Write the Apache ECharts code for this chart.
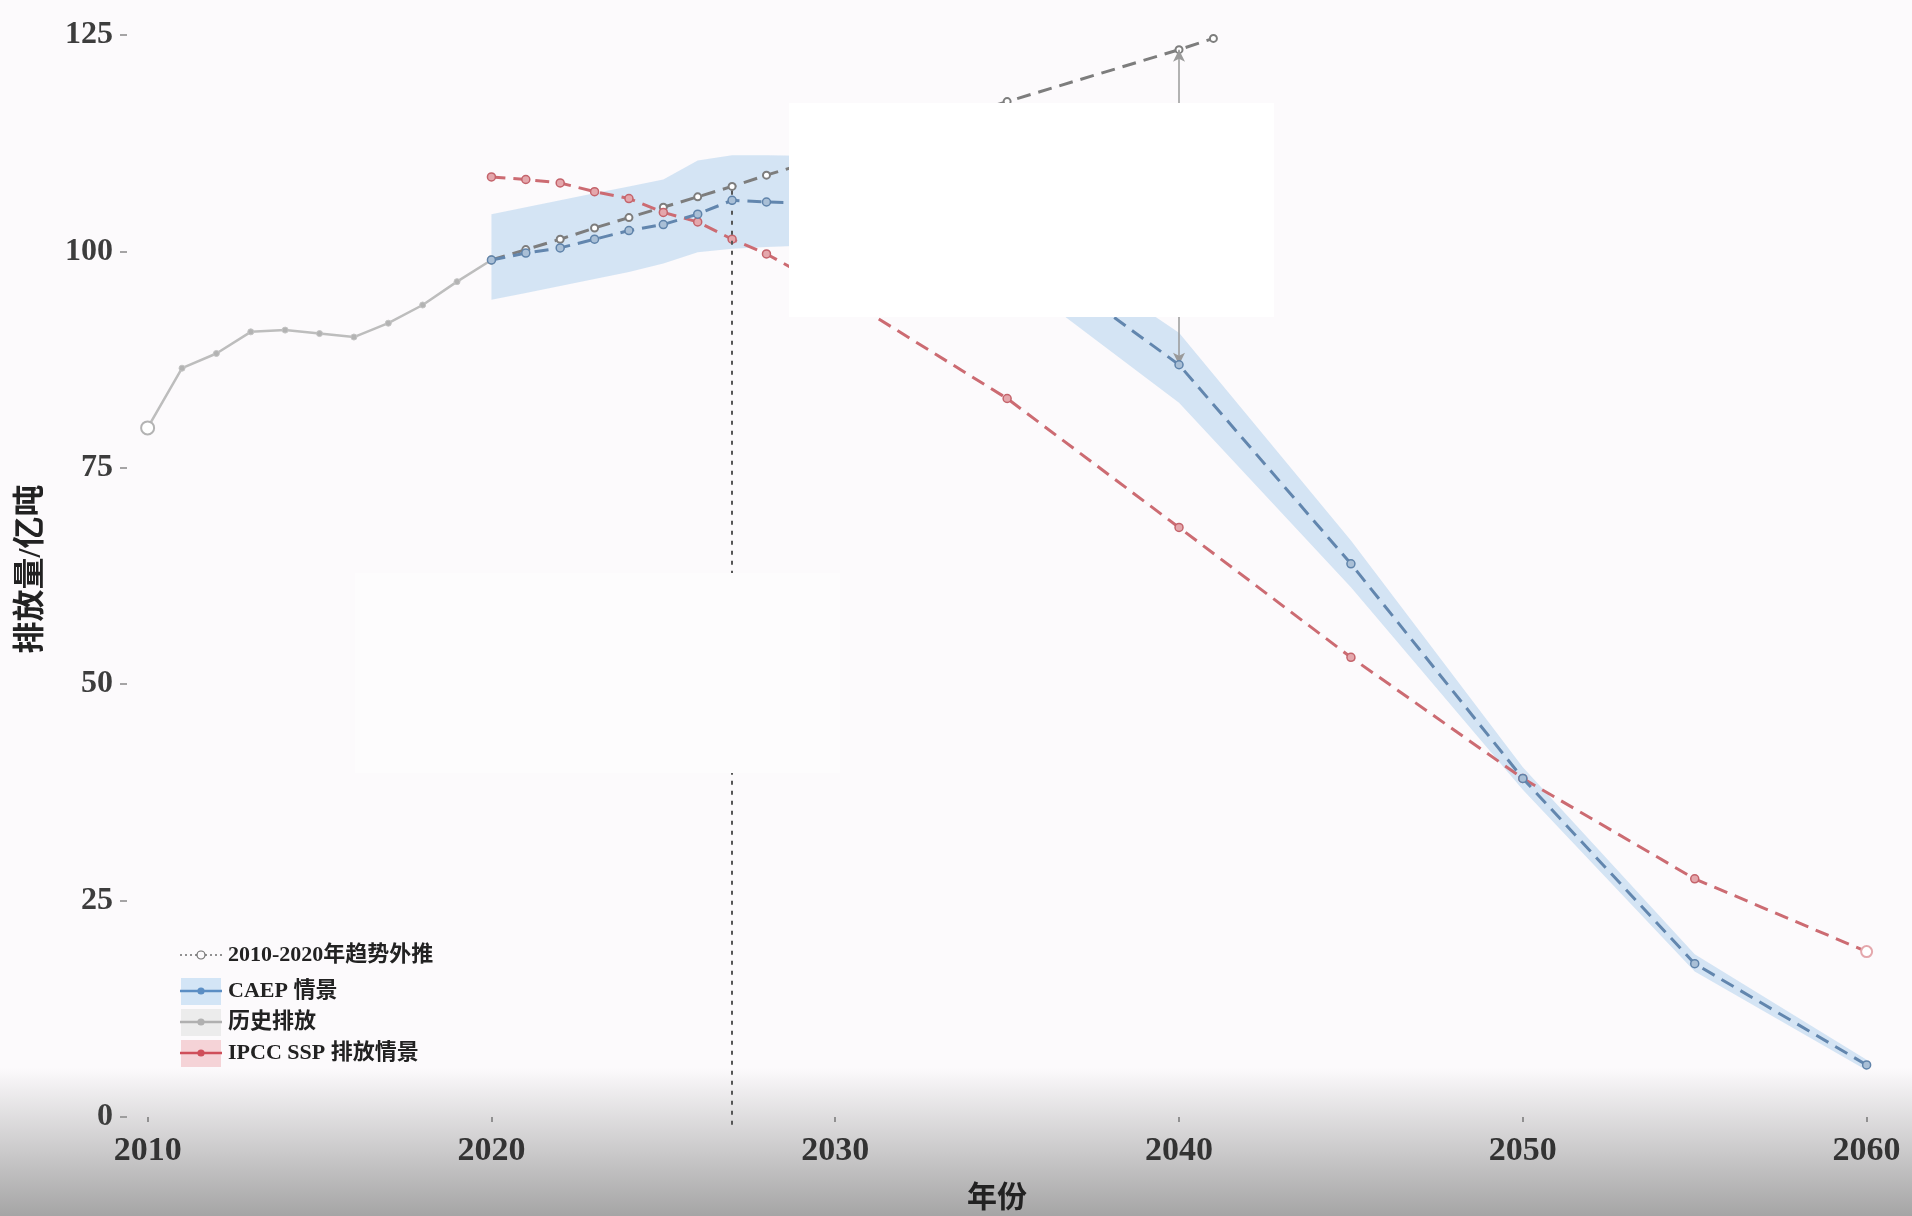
<!DOCTYPE html>
<html>
<head>
<meta charset="utf-8">
<title>排放量情景</title>
<script src="https://cdn.jsdelivr.net/npm/echarts@6/dist/echarts.min.js"></script>
<style>
  html, body { margin: 0; padding: 0; background: #fcfafc; }
  #chart { width: 1912px; height: 1216px; }
</style>
</head>
<body>
<div id="chart"></div>
<script>
// historical emissions (亿吨)
const histYears = [2010, 2011, 2012, 2013, 2014, 2015, 2016, 2017, 2018, 2019, 2020];
const histValues = [79.6, 86.5, 88.2, 90.7, 90.9, 90.5, 90.1, 91.7, 93.8, 96.5, 99.0];

// scenario years shared by CAEP and IPCC SSP
const scenYears = [2020, 2021, 2022, 2023, 2024, 2025, 2026, 2027, 2028, 2030, 2035, 2040, 2045, 2050, 2055, 2060];
const caepValues = [99.0, 99.8, 100.4, 101.4, 102.4, 103.1, 104.3, 105.9, 105.7, 105.5, 101.4, 86.9, 63.9, 39.1, 17.7, 6.0];
const caepLow = [94.4, 95.2, 96.0, 96.8, 97.6, 98.6, 99.9, 100.3, 100.5, 100.8, 97.5, 82.5, 61.2, 37.8, 16.8, 5.4];
const caepHigh = [104.3, 105.1, 105.9, 106.7, 107.5, 108.3, 110.5, 111.1, 111.1, 111.0, 104.0, 90.6, 66.6, 40.4, 18.8, 6.6];
const ipccValues = [108.6, 108.3, 107.9, 106.9, 106.1, 104.5, 103.4, 101.4, 99.7, 95.3, 83.0, 68.1, 53.1, 39.1, 27.5, 19.1];

// 2010-2020 trend extrapolation
const trendYears = [2020, 2021, 2022, 2023, 2024, 2025, 2026, 2027, 2028, 2030, 2035, 2040, 2041];
const trendValues = [99.0, 100.2, 101.4, 102.7, 103.9, 105.1, 106.3, 107.5, 108.8, 111.2, 117.3, 123.3, 124.6];

// reference marks
const peakMark = [2027, 107.0];          // dotted vertical line from here down to the panel bottom
const gapMark = [2040, 123.3, 86.9];     // year, trend value, CAEP value

const xTicks = [2010, 2020, 2030, 2040, 2050, 2060];
const yTicks = [0, 25, 50, 75, 100, 125];
const xMin = 2009.4, xMax = 2061;
const yMin = -1.4, yMax = 128;

const zip = (xs, ys) => xs.map((x, i) => [x, ys[i]]);
const serif = "'Liberation Serif', 'Noto Sans CJK SC', serif";
const bg = '#fcfafc';

const chart = echarts.init(document.getElementById('chart'));

// hand drawn legend in the lower left corner (ggplot style keys)
const legendRows = [
  { y: 955, text: '2010-2020年趋势外推', box: null, line: '#6e6e6e', dotted: true },
  { y: 991, text: 'CAEP 情景', box: '#d3e5f6', line: '#5b8ec4' },
  { y: 1022, text: '历史排放', box: '#ececec', line: '#b0b0b0' },
  { y: 1053, text: 'IPCC SSP 排放情景', box: '#f5d3d7', line: '#cf4f5a' },
];
const legendEls = [];
legendRows.forEach((r) => {
  if (r.box) {
    legendEls.push({ type: 'rect', shape: { x: 181, y: r.y - 13, width: 40, height: 27 }, style: { fill: r.box } });
  }
  legendEls.push({
    type: 'line',
    shape: { x1: 180, y1: r.y, x2: 222, y2: r.y },
    style: { stroke: r.line, lineWidth: r.dotted ? 1.5 : 2.5, lineDash: r.dotted ? [2, 3] : null },
  });
  legendEls.push({
    type: 'circle',
    shape: { cx: 201, cy: r.y, r: r.dotted ? 4 : 3 },
    style: { fill: r.dotted ? bg : r.line, stroke: r.line, lineWidth: 1.2 },
  });
  legendEls.push({
    type: 'text',
    x: 228,
    y: r.y,
    style: { text: r.text, fill: '#222', font: 'bold 22px ' + serif, verticalAlign: 'middle' },
  });
});

const option = {
  backgroundColor: bg,
  animation: false,
  grid: { left: 127, right: 11, top: 9, bottom: 87, containLabel: false, outerBoundsMode: 'none' },
  xAxis: {
    type: 'value',
    min: xMin,
    max: xMax,
    axisLine: { show: false },
    axisTick: { show: true, length: 5, customValues: xTicks, lineStyle: { color: '#777', width: 1.5 } },
    axisLabel: {
      customValues: xTicks,
      formatter: (v) => String(v),
      margin: 5,
      fontSize: 34,
      fontWeight: 'bold',
      fontFamily: serif,
      color: '#333',
    },
    splitLine: { show: false },
    name: '年份',
    nameLocation: 'middle',
    nameGap: 55,
    nameTextStyle: { fontSize: 30, fontWeight: 'bold', fontFamily: serif, color: '#222', padding: [0, 34, 0, 0] },
  },
  yAxis: {
    type: 'value',
    min: yMin,
    max: yMax,
    axisLine: { show: false },
    axisTick: { show: true, length: 7, customValues: yTicks, lineStyle: { color: '#888', width: 1.5 } },
    axisLabel: {
      customValues: yTicks,
      margin: 14,
      fontSize: 32,
      fontWeight: 'bold',
      fontFamily: serif,
      color: '#3d3d3d',
    },
    splitLine: { show: false },
    name: '排放量/亿吨',
    nameLocation: 'middle',
    nameRotate: 90,
    nameGap: 79,
    nameTextStyle: { fontSize: 32, fontWeight: 'bold', fontFamily: serif, color: '#222' },
  },
  graphic: [
    // grey fade at the bottom of the screenshot
    {
      type: 'rect',
      z: -1,
      shape: { x: 0, y: 1068, width: 1912, height: 148 },
      style: {
        fill: new echarts.graphic.LinearGradient(0, 0, 0, 1, [
          { offset: 0, color: 'rgba(150,150,150,0)' },
          { offset: 0.35, color: 'rgba(150,150,150,0.3)' },
          { offset: 1, color: 'rgba(150,150,150,0.85)' },
        ]),
      },
    },
    // white patches covering parts of the original figure
    { type: 'rect', z: 50, shape: { x: 789, y: 103, width: 485, height: 214 }, style: { fill: '#ffffff' } },
    { type: 'rect', z: 50, shape: { x: 355, y: 573, width: 485, height: 200 }, style: { fill: '#fdfcfd' } },
    { type: 'group', z: 60, children: legendEls },
  ],
  series: [
    {
      // CAEP uncertainty ribbon
      name: 'CAEP区间',
      type: 'custom',
      z: 1,
      silent: true,
      data: scenYears.map((y, i) => [y, caepLow[i], caepHigh[i]]),
      encode: { x: 0, y: [1, 2] },
      renderItem: (params, api) => {
        if (params.dataIndex !== 0) return null;
        const pts = [];
        scenYears.forEach((y, i) => pts.push(api.coord([y, caepHigh[i]])));
        for (let i = scenYears.length - 1; i >= 0; i--) pts.push(api.coord([scenYears[i], caepLow[i]]));
        return { type: 'polygon', shape: { points: pts }, style: { fill: '#cfe1f3', opacity: 0.9 } };
      },
    },
    {
      name: '历史排放',
      type: 'line',
      z: 3,
      data: zip(histYears, histValues),
      symbol: (v, p) => (p.dataIndex === 0 ? 'emptyCircle' : 'circle'),
      symbolSize: (v, p) => (p.dataIndex === 0 ? 13 : 6),
      lineStyle: { color: '#bdbdbd', width: 2.5 },
      itemStyle: { color: '#b3b3b3', borderColor: '#c4c4c4' },
    },
    {
      name: '2010-2020年趋势外推',
      type: 'line',
      z: 4,
      data: zip(trendYears, trendValues),
      symbol: 'emptyCircle',
      symbolSize: 7,
      lineStyle: { color: '#7d7d7d', width: 3, type: [14, 8] },
      itemStyle: { color: '#7d7d7d', borderWidth: 1.5 },
      markLine: {
        silent: true,
        symbol: ['none', 'none'],
        label: { show: false },
        lineStyle: { type: [4, 6], color: '#555', width: 2 },
        data: [[{ coord: [peakMark[0], peakMark[1]] }, { coord: [peakMark[0], yMin] }]],
      },
    },
    {
      name: 'CAEP 情景',
      type: 'line',
      z: 5,
      data: zip(scenYears, caepValues),
      symbol: 'circle',
      symbolSize: 8,
      lineStyle: { color: '#6286ae', width: 3, type: [14, 8] },
      itemStyle: { color: '#a9bfd6', borderColor: '#5f83aa', borderWidth: 1.5 },
      markLine: {
        silent: true,
        symbol: ['arrow', 'arrow'],
        symbolSize: [9, 12],
        label: { show: false },
        lineStyle: { type: 'solid', color: '#9a9a9a', width: 1.5 },
        data: [[{ coord: [gapMark[0], gapMark[1]] }, { coord: [gapMark[0], gapMark[2]] }]],
      },
    },
    {
      name: 'IPCC SSP 排放情景',
      type: 'line',
      z: 4,
      data: zip(scenYears, ipccValues),
      symbol: (v, p) => (p.dataIndex === scenYears.length - 1 ? 'emptyCircle' : 'circle'),
      symbolSize: (v, p) => (p.dataIndex === scenYears.length - 1 ? 11 : 8),
      lineStyle: { color: '#cc6b72', width: 3, type: [14, 8] },
      itemStyle: { color: '#e4a7ac', borderColor: '#c4636b', borderWidth: 1.5 },
    },
  ],
};

chart.setOption(option);
</script>
</body>
</html>
